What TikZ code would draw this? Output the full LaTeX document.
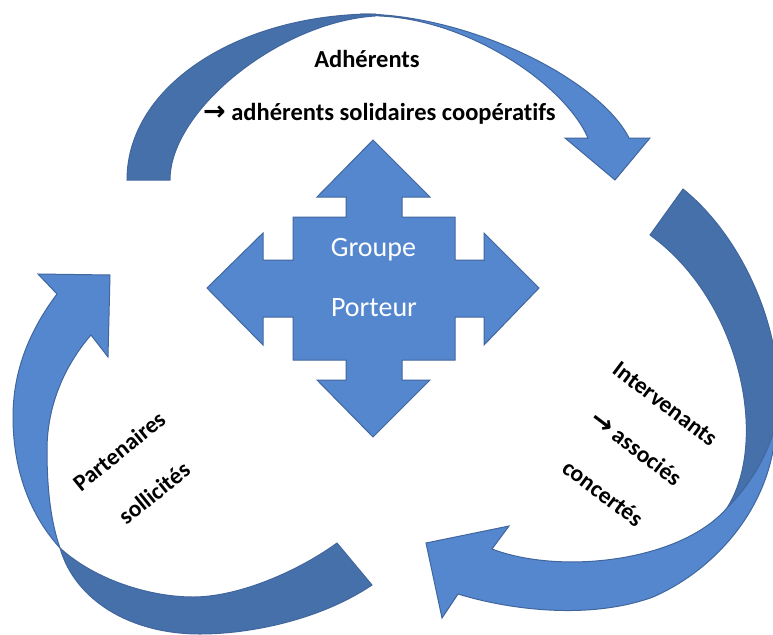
\documentclass[tikz,border=0pt]{standalone}
\usepackage{fontspec}
\setmainfont{Carlito}[Ligatures=NoCommon]
\newfontfamily\symbfont{DejaVu Sans}
\newcommand{\bigarr}{{\symbfont\bfseries\fontsize{27}{28}\selectfont →}}
\definecolor{lightb}{HTML}{5587CE}
\definecolor{darkb}{HTML}{4670AA}
\definecolor{edgeb}{HTML}{41669E}
\begin{document}
\begin{tikzpicture}[x=1pt,y=-1pt,
  light/.style={fill=lightb, draw=edgeb, line width=1pt, line join=miter},
  dark/.style={fill=darkb, draw=edgeb, line width=1pt, line join=miter},
  lbl/.style={font=\bfseries\fontsize{24.5}{28}\selectfont, inner sep=0pt},
  rlbl/.style={font=\bfseries\fontsize{23.5}{28}\selectfont, inner sep=0pt},
  grp/.style={font=\fontsize{28}{32}\selectfont, text=white, inner sep=0pt}]
\useasboundingbox (0,0) rectangle (773,634);
\begin{scope}
\clip (0,0) rectangle (773,634);
% top curved arrow
\path[dark] (127,180) .. controls (127,85) and (240,14) .. (375,14)
  -- (375,16) .. controls (280,22) and (170,110) .. (170,180) -- cycle;
\path[light] (360,14) .. controls (470,14) and (600,80) .. (629,138)
  -- (650,138) -- (615,180) -- (565,138) -- (588,138)
  .. controls (565,85) and (470,20) .. (380,16) -- cycle;
% right curved arrow
\path[dark] (683,189) .. controls (740,235) and (778,320) .. (778,390)
  .. controls (778,450) and (755,490) .. (727,508)
  .. controls (770,440) and (740,300) .. (650,235) -- cycle;
\path[light] (776,420) .. controls (775,505) and (715,570) .. (653,597)
  .. controls (590,620) and (510,610) .. (458,594)
  -- (442,618) -- (426,543) -- (509,526) -- (492,549)
  .. controls (560,575) and (680,562) .. (727,508)
  .. controls (755,480) and (772,445) .. (776,420) -- cycle;
% left curved arrow
\path[dark] (372,585) .. controls (320,620) and (250,634) .. (200,634)
  .. controls (130,634) and (75,600) .. (60,548)
  .. controls (95,580) and (150,597) .. (193,597)
  .. controls (240,597) and (300,570) .. (337,543) -- cycle;
\path[light] (60,548) .. controls (30,515) and (13,470) .. (13,417)
  .. controls (13,370) and (30,330) .. (57,294)
  -- (38,274) -- (110,275) -- (108,357) -- (91,335)
  .. controls (65,365) and (47,405) .. (47,450)
  .. controls (47,495) and (52,525) .. (60,548) -- cycle;
\end{scope}
% central four-way arrow
\path[light] (373,140) -- (430,197) -- (402,197) -- (402,217) -- (455,217) -- (455,260) -- (484,260) -- (484,233)
  -- (539,288) -- (484,345) -- (484,317) -- (455,317) -- (455,360) -- (402,360) -- (402,380) -- (430,380)
  -- (373,437) -- (317,380) -- (346,380) -- (346,360) -- (293,360) -- (293,317) -- (263,317) -- (263,345)
  -- (207,288) -- (263,233) -- (263,260) -- (293,260) -- (293,217) -- (346,217) -- (346,197) -- (317,197) -- cycle;
\node[grp, anchor=base] (groupe) at (373.5,256) {Groupe};
\node[grp, anchor=base] (porteur) at (374,316) {Porteur};
% labels
\node[lbl, anchor=base] (adh) at (367,67) {Adhérents};
\node[lbl, anchor=base west] (adhsol) at (203,120) {\bigarr{} adhérents solidaires coopératifs};
\node[rlbl, rotate=39] (part) at (119,451) {Partenaires};
\node[rlbl, rotate=39] (soll) at (154,493) {sollicités};
\node[rlbl, rotate=-37] (interv) at (665,404) {Intervenants};
\node[rlbl, rotate=-37] (assoc) at (636,448) {\bigarr{} associés};
\node[rlbl, rotate=-37] (conc) at (603,493) {concertés};
\end{tikzpicture}
\end{document}
